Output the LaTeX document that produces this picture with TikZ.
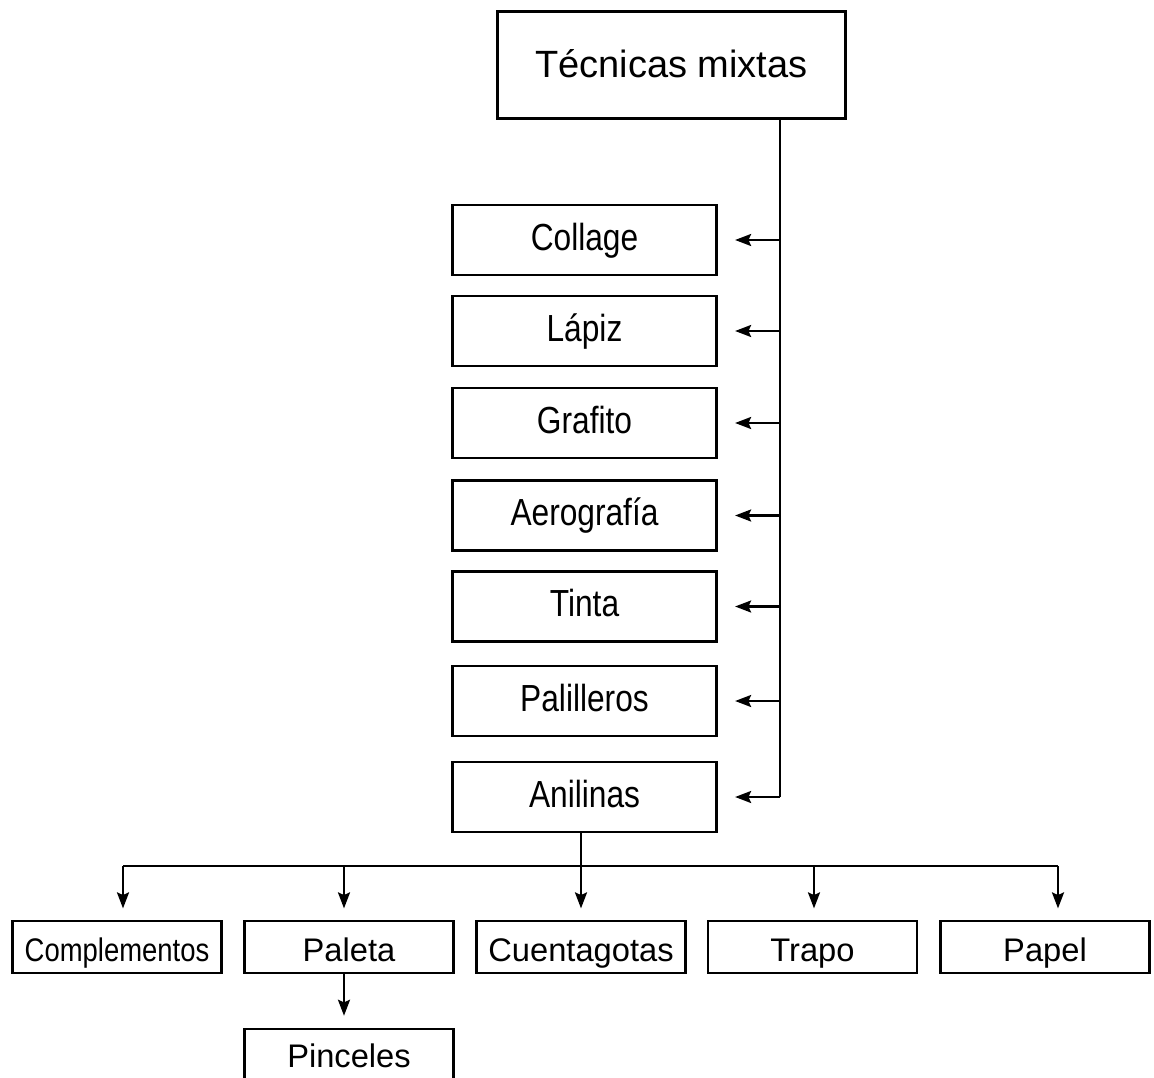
\documentclass[tikz,border=0pt]{standalone}
\usepackage{fontspec}
\setmainfont{Liberation Sans}
\newfontfamily\narrowfont[FakeStretch=0.84]{Liberation Sans}
\usetikzlibrary{arrows.meta}

\begin{document}
\begin{tikzpicture}[
		x=0.75pt, y=-0.75pt,
		box/.style={draw, line width=1.9pt, inner sep=0pt},
		topbox/.style={box, minimum width=261pt, minimum height=80pt, text height=22pt, text depth=4pt, font=\fontsize{28.5}{30}\selectfont},
		midbox/.style={box, minimum width=198pt, minimum height=52.5pt, text height=20pt, text depth=5pt, font=\narrowfont\fontsize{28.3}{30}\selectfont},
		lowbox/.style={box, minimum width=157pt, minimum height=39pt, text height=21pt, text depth=0pt, font=\fontsize{24.5}{26}\selectfont},
		link/.style={line width=1.8pt},
		arr/.style={link, -{Stealth[length=12pt,width=9pt,inset=2pt]}}
		]
		\useasboundingbox (0,0) rectangle (1154,1078);
		\clip (0,0) rectangle (1154,1078);
		\node[topbox] (tecnicas) at (671.5,65) {Técnicas mixtas};
		\node[midbox] (collage) at (584.5,240) {Collage};
		\node[midbox] (lapiz) at (584.5,331) {Lápiz};
		\node[midbox] (grafito) at (584.5,423) {Grafito};
		\node[midbox] (aerografia) at (584.5,515.5) {Aerografía};
		\node[midbox] (tinta) at (584.5,606.5) {Tinta};
		\node[midbox] (palilleros) at (584.5,701) {Palilleros};
		\node[midbox] (anilinas) at (584.5,797) {Anilinas};
		\node[lowbox] (complementos) at (117,947) {\narrowfont Complementos};
		\node[lowbox] (paleta) at (349,947) {Paleta};
		\node[lowbox] (cuentagotas) at (581,947) {Cuentagotas};
		\node[lowbox] (trapo) at (812.5,947) {Trapo};
		\node[lowbox] (papel) at (1045,947) {Papel};
		\node[lowbox, text height=18pt] (pinceles) at (349,1055) {Pinceles};
		\coordinate (trunk) at (780,0);
		\coordinate (b1) at (123,866);
		\coordinate (b2) at (344,866);
		\coordinate (b3) at (581,866);
		\coordinate (b4) at (814,866);
		\coordinate (b5) at (1058,866);
		\draw[link] (tecnicas.south -| trunk) -- (trunk |- anilinas);
		\foreach \t in {collage,lapiz,grafito,aerografia,tinta,palilleros,anilinas}
			\draw[arr, shorten >=13pt] (trunk |- \t) -- (\t.east);
		\draw[link] (b1) -- (b5);
		\draw[arr, shorten >=8.5pt] (b3 |- anilinas.south) -- (b3 |- cuentagotas.north);
		\draw[arr, shorten >=8.5pt] (b1) -- (b1 |- complementos.north);
		\draw[arr, shorten >=8.5pt] (b2) -- (b2 |- paleta.north);
		\draw[arr, shorten >=8.5pt] (b4) -- (b4 |- trapo.north);
		\draw[arr, shorten >=8.5pt] (b5) -- (b5 |- papel.north);
		\draw[arr, shorten >=9pt] (b2 |- paleta.south) -- (b2 |- pinceles.north);
	\end{tikzpicture}
\end{document}
